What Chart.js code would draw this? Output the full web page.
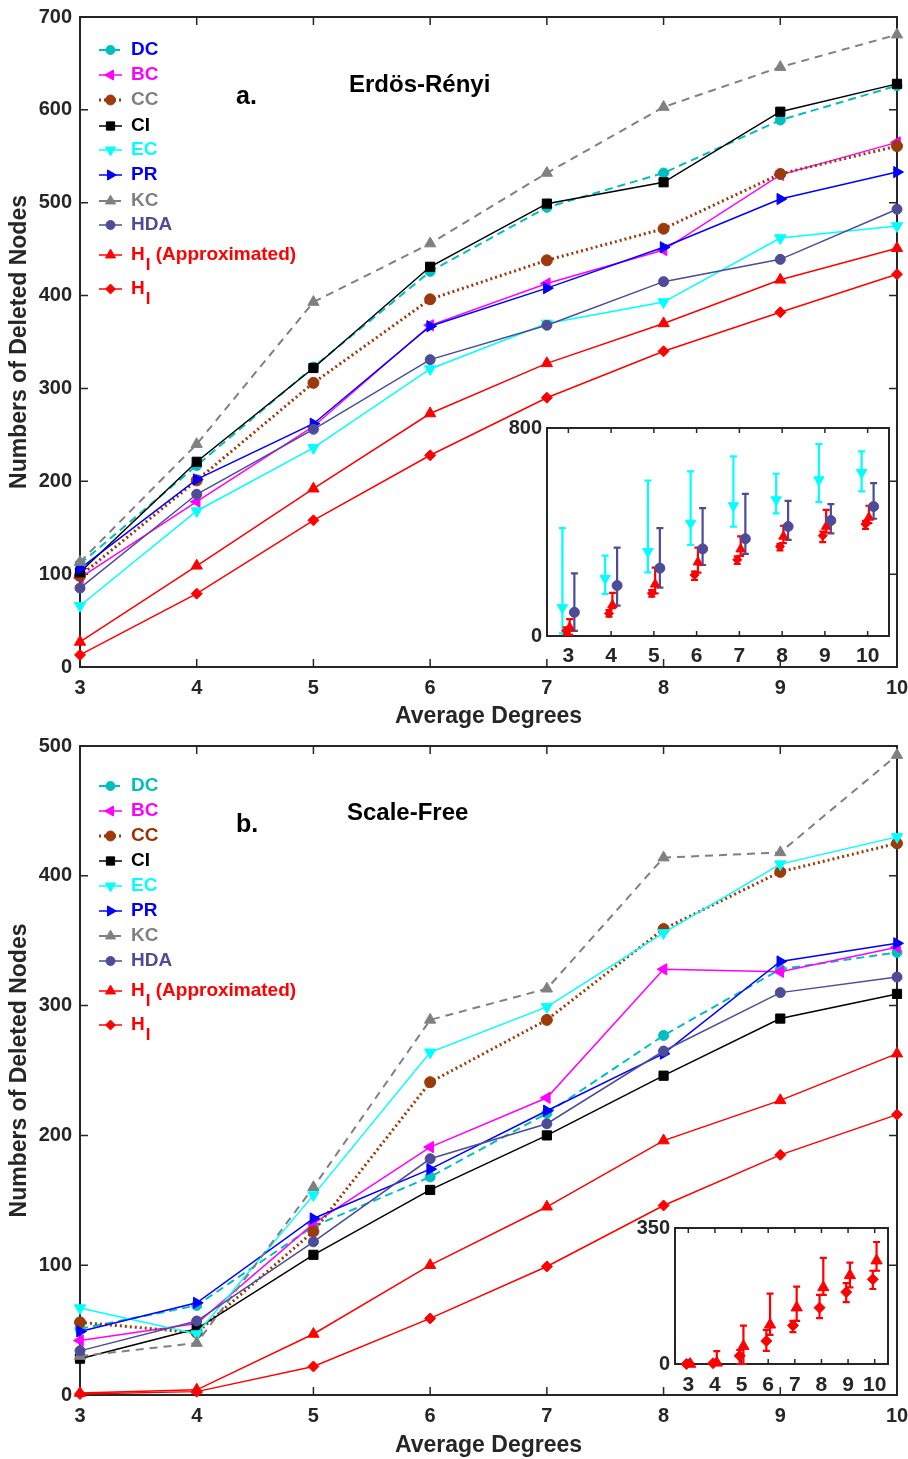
<!DOCTYPE html>
<html><head><meta charset="utf-8">
<script src="https://cdn.jsdelivr.net/npm/chart.js@4.4.1/dist/chart.umd.min.js"></script>
<style>
html,body{margin:0;padding:0;background:#fff;}
#wrap{position:relative;width:908px;height:1459px;overflow:hidden;}
canvas{position:absolute;display:block;}
</style></head><body>
<div id="wrap">
<canvas id="mainA" width="908" height="735" style="left:0;top:0"></canvas>
<canvas id="mainB" width="908" height="724" style="left:0;top:735px"></canvas>
<canvas id="insetA" width="392" height="255" style="left:505px;top:420px"></canvas>
<canvas id="insetB" width="267" height="180" style="left:635px;top:1220px"></canvas>
</div>
<script>
// ---------- data ----------
const degrees = [3,4,5,6,7,8,9,10];
const seriesKeys = ['DC','BC','CC','CI','EC','PR','KC','HDA','HA','HI'];
const seriesLabels = ['DC','BC','CC','CI','EC','PR','KC','HDA','H_I (Approximated)','H_I'];

// a. Erdös-Rényi
const erDC  = [111,217,323,426,495,532,589,626];
const erBC  = [96,178,259,368,413,449,530,565];
const erCC  = [98,201,306,396,438,472,531,561];
const erCI  = [102,221,322,431,499,522,598,628];
const erEC  = [66,168,236,321,370,393,462,475];
const erPR  = [106,202,262,367,408,452,504,533];
const erKC  = [113,240,393,456,532,603,646,681];
const erHDA = [85,186,256,331,368,415,439,493];
const erHA  = [27,109,192,273,327,370,417,451];
const erHI  = [13,79,158,228,290,340,382,423];

// b. Scale-Free
const sfDC  = [51,69,130,168,217,277,328,341];
const sfBC  = [42,55,132,191,229,328,326,345];
const sfCC  = [56,48,126,241,289,359,403,425];
const sfCI  = [28,51,108,158,200,246,290,309];
const sfEC  = [67,47,154,264,299,356,409,430];
const sfPR  = [49,71,136,174,219,263,334,348];
const sfKC  = [30,40,160,289,313,414,418,493];
const sfHDA = [34,57,118,182,209,265,310,322];
const sfHA  = [1.5,4,47,100,145,196,227,263];
const sfHI  = [0.8,2.6,22,59,99,146,185,216];

// inset a (mean, low, high)
const inEC      = [109,222,325,434,501,524,601,629];
const inECLow   = [10,162,245,350,421,472,515,556];
const inECHigh  = [415,309,598,633,691,624,738,710];
const inHDA     = [91,194,261,335,374,421,444,498];
const inHDALow  = [20,117,186,273,316,370,395,451];
const inHDAHigh = [241,340,415,492,547,520,507,588];
const inHA      = [33,119,199,284,334,383,421,456];
const inHALow   = [4,107,164,244,308,357,398,434];
const inHAHigh  = [65,166,263,340,383,424,485,501];
const inHI      = [20,87,164,235,293,344,386,430];
const inHILow   = [5,74,151,216,277,329,361,412];
const inHIHigh  = [33,100,177,248,306,354,402,443];

// inset b
const inbHA      = [0,3,46,101,145,197,228,266];
const inbHALow   = [0,0,0,75,111,178,197,240];
const inbHAHigh  = [3,33,99,181,199,273,261,314];
const inbHI      = [0,2,21,59,99,145,185,218];
const inbHILow   = [0,0,0,34,82,118,159,193];
const inbHIHigh  = [2,5,36,88,111,178,208,240];

const yTicksA = [0,100,200,300,400,500,600,700];
const yTicksB = [0,100,200,300,400,500];
const yTicksInA = [0,800];
const yTicksInB = [0,350];

// ---------- styles ----------
const FONT = '"Liberation Sans", Arial, Helvetica, sans-serif';
const AXIS_COLOR = '#262626';
const STYLE = {
  DC: {color:'#00BFBF', dash:[8,5], width:2,   ps:'circle',   rot:0,   r:5},
  BC: {color:'#FF00FF', dash:[],    width:1.5, ps:'triangle', rot:-90, r:6.5},
  CC: {color:'#9B3A0B', dash:[2,3], width:3,   ps:'circle',   rot:0,   r:5.5},
  CI: {color:'#000000', dash:[],    width:1.5, ps:'rect',     rot:0,   r:6.5},
  EC: {color:'#00FFFF', dash:[],    width:1.5, ps:'triangle', rot:180, r:6.5},
  PR: {color:'#0000FF', dash:[],    width:1.5, ps:'triangle', rot:90,  r:6.5},
  KC: {color:'#808080', dash:[8,6], width:2,   ps:'triangle', rot:0,   r:6.5},
  HDA:{color:'#4C4C99', dash:[],    width:1.5, ps:'circle',   rot:0,   r:5},
  HA: {color:'#FF0000', dash:[],    width:1.5, ps:'triangle', rot:0,   r:6.5},
  HI: {color:'#FF0000', dash:[],    width:1.5, ps:'rectRot',  rot:0,   r:5.5}
};
const textColorsA = {DC:'#0000FF',BC:'#FF00FF',CC:'#808080',CI:'#000000',EC:'#00FFFF',PR:'#0000FF',KC:'#808080',HDA:'#4C4C99',HA:'#FF0000',HI:'#FF0000'};
const textColorsB = {DC:'#00BFBF',BC:'#FF00FF',CC:'#993300',CI:'#000000',EC:'#00FFFF',PR:'#0000FF',KC:'#808080',HDA:'#4C4C99',HA:'#FF0000',HI:'#FF0000'};

function drawMarker(ctx, st, x, y, r) {
  ctx.save();
  ctx.setLineDash([]);
  ctx.fillStyle = st.color; ctx.strokeStyle = st.color; ctx.lineWidth = 1;
  Chart.helpers.drawPoint(ctx, {pointStyle: st.ps, rotation: st.rot, radius: r || st.r, borderWidth: 1}, x, y);
  ctx.restore();
}

// frame + inward ticks (behind data, like MATLAB)
const framePlugin = {
  id: 'frameTicks',
  beforeDatasetsDraw(chart, args, opts) {
    const {ctx, chartArea: a, scales: {x, y}} = chart;
    ctx.save();
    if (opts.fill) { ctx.fillStyle = '#fff'; ctx.fillRect(a.left, a.top, a.right - a.left, a.bottom - a.top); }
    ctx.strokeStyle = AXIS_COLOR; ctx.lineWidth = opts.lineWidth || 2;
    ctx.strokeRect(a.left, a.top, a.right - a.left, a.bottom - a.top);
    const L = opts.tickLen || 8;
    ctx.lineWidth = 1.5;
    ctx.beginPath();
    x.ticks.forEach(t => { const px = x.getPixelForValue(t.value);
      ctx.moveTo(px, a.bottom); ctx.lineTo(px, a.bottom - L);
      ctx.moveTo(px, a.top); ctx.lineTo(px, a.top + L); });
    y.ticks.forEach(t => { const py = y.getPixelForValue(t.value);
      ctx.moveTo(a.left, py); ctx.lineTo(a.left + L, py);
      ctx.moveTo(a.right, py); ctx.lineTo(a.right - L, py); });
    ctx.stroke();
    ctx.restore();
  }
};

// error bars for insets
const errorBarPlugin = {
  id: 'errorBars',
  beforeDatasetsDraw(chart, args, opts) {
    if (!opts.bars) return;
    const {ctx, scales: {x, y}} = chart;
    ctx.save();
    opts.bars.forEach(b => {
      ctx.strokeStyle = b.color; ctx.lineWidth = b.lineWidth || 2;
      ctx.beginPath();
      degrees.forEach((d, i) => {
        const px = x.getPixelForValue(d + b.offset);
        const y0 = y.getPixelForValue(b.low[i]), y1 = y.getPixelForValue(b.high[i]);
        const c = b.cap || 3;
        ctx.moveTo(px, y0); ctx.lineTo(px, y1);
        ctx.moveTo(px - c, y0); ctx.lineTo(px + c, y0);
        ctx.moveTo(px - c, y1); ctx.lineTo(px + c, y1);
      });
      ctx.stroke();
    });
    ctx.restore();
  }
};

// in-plot legend and annotations
const legendPlugin = {
  id: 'insideLegend',
  afterDraw(chart, args, opts) {
    if (!opts.rows) return;
    const ctx = chart.ctx;
    ctx.save();
    seriesKeys.forEach((k, i) => {
      const st = STYLE[k], y = opts.rows[i];
      ctx.strokeStyle = st.color; ctx.lineWidth = st.width; ctx.setLineDash(st.dash);
      ctx.beginPath(); ctx.moveTo(opts.x0, y); ctx.lineTo(opts.x1, y); ctx.stroke();
      ctx.setLineDash([]);
      drawMarker(ctx, st, (opts.x0 + opts.x1) / 2, y, st.r * 0.9);
      ctx.fillStyle = opts.textColors[k];
      ctx.textBaseline = 'middle'; ctx.textAlign = 'left';
      let tx = opts.textX;
      const label = seriesLabels[i];
      const parts = label.split('_I');
      ctx.font = 'bold 19px ' + FONT;
      if (parts.length > 1) {
        ctx.fillText(parts[0], tx, y); tx += ctx.measureText(parts[0]).width + 1;
        ctx.font = 'bold 17px ' + FONT;
        ctx.fillText('I', tx, y + 10); tx += ctx.measureText('I').width;
        ctx.font = 'bold 19px ' + FONT;
        ctx.fillText(parts[1], tx, y);
      } else {
        ctx.fillText(label, tx, y);
      }
    });
    ctx.fillStyle = '#000';
    ctx.textBaseline = 'middle'; ctx.textAlign = 'left';
    (opts.notes || []).forEach(n => { ctx.font = 'bold ' + n.size + 'px ' + FONT; ctx.fillText(n.text, n.x, n.y); });
    ctx.restore();
  }
};

function ds(key, data, xs) {
  const st = STYLE[key];
  return {
    label: seriesLabels[seriesKeys.indexOf(key)],
    data: data.map((v, i) => ({x: xs ? xs[i] : degrees[i], y: v})),
    borderColor: st.color, backgroundColor: st.color,
    borderWidth: st.width, borderDash: st.dash,
    pointStyle: st.ps, pointRotation: st.rot, pointRadius: st.r,
    pointBorderWidth: 1, pointBorderColor: st.color, pointBackgroundColor: st.color,
    tension: 0, clip: false
  };
}

function mainChart(id, series, yTicks, ymax, geom) {
  const datasets = seriesKeys.map((k, i) => Object.assign(ds(k, series[i]), {order: -i}));
  return new Chart(document.getElementById(id), {
    type: 'line',
    data: {datasets},
    options: {
      responsive: false, animation: false, devicePixelRatio: 1,
      layout: {padding: {top: geom.top, right: geom.right, left: 0, bottom: 0}},
      plugins: {legend: {display: false}, tooltip: {enabled: false},
        frameTicks: {tickLen: 8, lineWidth: 2},
        insideLegend: geom.legend},
      scales: {
        x: {type: 'linear', min: 3, max: 10,
          afterBuildTicks: s => { s.ticks = degrees.map(v => ({value: v})); },
          afterFit: s => { s.height = geom.xh; s.paddingLeft = 0; s.paddingRight = 0; },
          grid: {display: false, drawTicks: false}, border: {display: false},
          ticks: {color: AXIS_COLOR, font: {family: FONT, size: 20, weight: 'bold'}, padding: 9, maxRotation: 0},
          title: {display: true, text: 'Average Degrees', color: AXIS_COLOR, font: {family: FONT, size: 23, weight: 'bold'}, padding: {top: 0, bottom: geom.titleB}}
        },
        y: {type: 'linear', min: 0, max: ymax,
          afterBuildTicks: s => { s.ticks = yTicks.map(v => ({value: v})); },
          afterFit: s => { s.width = 80; s.paddingTop = 0; s.paddingBottom = 0; },
          grid: {display: false, drawTicks: false}, border: {display: false},
          ticks: {color: AXIS_COLOR, font: {family: FONT, size: 20, weight: 'bold'}, padding: 8},
          title: {display: true, text: 'Numbers of Deleted Nodes', color: AXIS_COLOR, font: {family: FONT, size: 23, weight: 'bold'}, padding: {top: 6, bottom: 0}}
        }
      }
    },
    plugins: [framePlugin, legendPlugin]
  });
}

mainChart('mainA', [erDC, erBC, erCC, erCI, erEC, erPR, erKC, erHDA, erHA, erHI], yTicksA, 700, {
  top: 17, right: 11, xh: 68, titleB: 5,
  legend: {x0: 99, x1: 122, textX: 131, rows: [50,75,100,126,150,175,201,225,255,289], textColors: textColorsA,
    notes: [{text: 'a.', x: 236, y: 97, size: 25}, {text: 'Erdös-Rényi', x: 349, y: 85, size: 24}]}
});
mainChart('mainB', [sfDC, sfBC, sfCC, sfCI, sfEC, sfPR, sfKC, sfHDA, sfHA, sfHI], yTicksB, 500, {
  top: 11, right: 11, xh: 64, titleB: 0,
  legend: {x0: 99, x1: 122, textX: 131, rows: [51,76,101,126,151,176,201,226,256,290], textColors: textColorsB,
    notes: [{text: 'b.', x: 236, y: 90, size: 25}, {text: 'Scale-Free', x: 347, y: 78, size: 24}]}
});

function insetChart(id, dsets, bars, yTicks, ymax, geom) {
  return new Chart(document.getElementById(id), {
    type: 'scatter',
    data: {datasets: dsets},
    options: {
      responsive: false, animation: false, devicePixelRatio: 1,
      layout: {padding: {top: geom.top, right: geom.right, left: 0, bottom: 0}},
      plugins: {legend: {display: false}, tooltip: {enabled: false},
        frameTicks: {tickLen: 5, lineWidth: 2, fill: true}, errorBars: {bars}},
      scales: {
        x: {type: 'linear', min: 2.5, max: 10.5,
          afterBuildTicks: s => { s.ticks = degrees.map(v => ({value: v})); },
          afterFit: s => { s.height = geom.xh; s.paddingLeft = 0; s.paddingRight = 0; },
          grid: {display: false, drawTicks: false}, border: {display: false},
          ticks: {color: AXIS_COLOR, font: {family: FONT, size: 21, weight: 'bold'}, padding: geom.xpad, maxRotation: 0, autoSkip: false}
        },
        y: {type: 'linear', min: 0, max: ymax,
          afterBuildTicks: s => { s.ticks = yTicks.map(v => ({value: v})); },
          afterFit: s => { s.width = geom.yw; s.paddingTop = 0; s.paddingBottom = 0; },
          grid: {display: false, drawTicks: false}, border: {display: false},
          ticks: {color: AXIS_COLOR, font: {family: FONT, size: 20, weight: 'bold'}, padding: 5}
        }
      }
    },
    plugins: [framePlugin, errorBarPlugin]
  });
}

function insetDs(key, data, offset, r) {
  const d = ds(key, data, degrees.map(v => v + offset));
  d.showLine = false; d.pointRadius = r;
  return d;
}

insetChart('insetA', [
  insetDs('EC', inEC, -0.14, 6),
  insetDs('HDA', inHDA, 0.14, 5),
  insetDs('HI', inHI, -0.05, 4.5),
  insetDs('HA', inHA, 0.03, 5.5)
], [
  {color: STYLE.EC.color, low: inECLow, high: inECHigh, offset: -0.14, cap: 3.5, lineWidth: 2.2},
  {color: STYLE.HDA.color, low: inHDALow, high: inHDAHigh, offset: 0.14, cap: 3.5, lineWidth: 2.2},
  {color: STYLE.HI.color, low: inHILow, high: inHIHigh, offset: -0.05, cap: 3.5, lineWidth: 2.2},
  {color: STYLE.HA.color, low: inHALow, high: inHAHigh, offset: 0.03, cap: 3.5, lineWidth: 2.2}
], yTicksInA, 800, {top: 8, right: 8, xh: 39, yw: 42, xpad: 8});

insetChart('insetB', [
  insetDs('HI', inbHI, -0.07, 5.5),
  insetDs('HA', inbHA, 0.07, 6.5)
], [
  {color: STYLE.HI.color, low: inbHILow, high: inbHIHigh, offset: -0.07, cap: 3.5, lineWidth: 2.2},
  {color: STYLE.HA.color, low: inbHALow, high: inbHAHigh, offset: 0.07, cap: 3.5, lineWidth: 2.2}
], yTicksInB, 350, {top: 8, right: 14, xh: 36, yw: 40, xpad: 9});
</script>
</body></html>
